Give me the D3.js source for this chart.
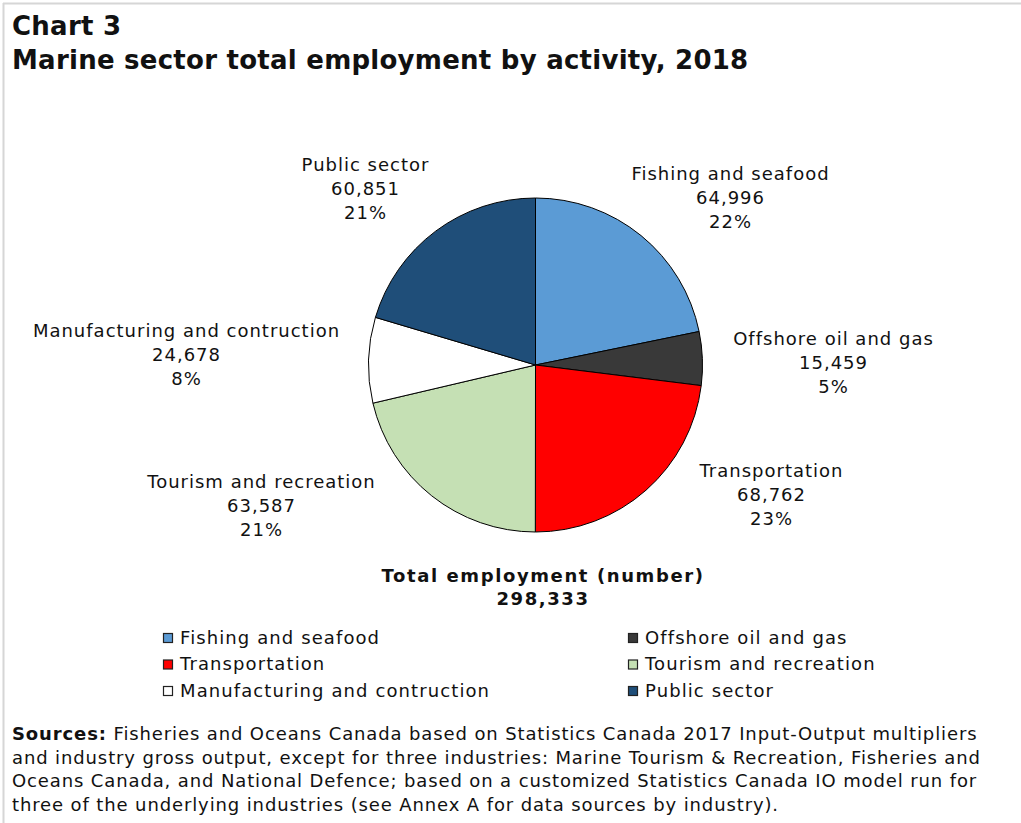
<!DOCTYPE html>
<html>
<head>
<meta charset="utf-8">
<script src="https://cdn.jsdelivr.net/npm/d3@7"></script>
<style>
  html, body { margin: 0; padding: 0; background: #fff; }
  svg { display: block; }
  text { font-family: "DejaVu Sans", Verdana, sans-serif; fill: #111; }
</style>
</head>
<body>
<svg id="chart" width="1021" height="823"></svg>
<script>
// Marine sector employment by activity, 2018
const categories = [
  "Fishing and seafood",
  "Offshore oil and gas",
  "Transportation",
  "Tourism and recreation",
  "Manufacturing and contruction",
  "Public sector"
];
const employment = [64996, 15459, 68762, 63587, 24678, 60851];
const shareLabels = ["22%", "5%", "23%", "21%", "8%", "21%"];
const colors = ["#5b9bd5", "#393939", "#ff0000", "#c5e0b4", "#ffffff", "#1f4e79"];

const titleLines = ["Chart 3", "Marine sector total employment by activity, 2018"];
const totalLabel = "Total employment (number)";
const sourceLines = [
  "Fisheries and Oceans Canada based on Statistics Canada 2017 Input-Output multipliers",
  "and industry gross output, except for three industries: Marine Tourism & Recreation, Fisheries and",
  "Oceans Canada, and National Defence; based on a customized Statistics Canada IO model run for",
  "three of the underlying industries (see Annex A for data sources by industry)."
];

// ---- layout ----
const cx = 535.5, cy = 365, radius = 167;
// label block centres (first-line baseline) relative to the pie centre
const labelAnchor = [
  [195, -185],   // Fishing and seafood
  [298, -20],    // Offshore oil and gas
  [236, 112],    // Transportation
  [-274, 123],   // Tourism and recreation
  [-349, -28],   // Manufacturing and contruction
  [-170, -194]   // Public sector
];
const lineGap = 24;
const fontSize = 18;
const tracking = 1.1;

const svg = d3.select("#chart");

// frame lines along the top and left
svg.append("line").attr("x1", 3).attr("x2", 1021).attr("y1", 3.5).attr("y2", 3.5)
  .attr("stroke", "#d6d6d6").attr("stroke-width", 2);
svg.append("line").attr("x1", 3.5).attr("x2", 3.5).attr("y1", 3).attr("y2", 823)
  .attr("stroke", "#d6d6d6").attr("stroke-width", 2);

// title
svg.append("g").selectAll("text").data(titleLines).join("text")
  .attr("x", 12).attr("y", (d, i) => 35 + i * 34)
  .attr("font-size", 26).attr("font-weight", "bold")
  .attr("letter-spacing", 0.25)
  .text(d => d);

const total = d3.sum(employment);
const fmtNum = d3.format(",");

const data = categories.map((c, i) => ({ name: c, value: employment[i], share: shareLabels[i], color: colors[i], idx: i }));

const pie = d3.pie().value(d => d.value).sort(null);
const arc = d3.arc().innerRadius(0).outerRadius(radius);

const g = svg.append("g").attr("transform", `translate(${cx},${cy})`);
g.selectAll("path").data(pie(data)).join("path")
  .attr("d", arc)
  .attr("fill", d => d.data.color)
  .attr("stroke", "#000")
  .attr("stroke-width", 1);

// slice labels: name, value, share
const labels = g.selectAll("text.slice").data(data).join("text")
  .attr("class", "slice")
  .attr("text-anchor", "middle")
  .attr("font-size", fontSize)
  .attr("letter-spacing", 1);
labels.each(function (d, i) {
  const t = d3.select(this);
  const [ax, ay] = labelAnchor[i];
  [d.name, fmtNum(d.value), d.share].forEach((s, k) => {
    t.append("tspan").attr("x", ax).attr("y", ay + k * lineGap).text(s);
  });
});

// total below the pie
svg.append("text").attr("x", 543).attr("y", 582)
  .attr("text-anchor", "middle").attr("font-size", fontSize).attr("font-weight", "bold")
  .attr("letter-spacing", 1.6)
  .text(totalLabel);
svg.append("text").attr("x", 543).attr("y", 605)
  .attr("text-anchor", "middle").attr("font-size", fontSize).attr("font-weight", "bold")
  .attr("letter-spacing", 1.6)
  .text(fmtNum(total));

// legend: two columns, three rows
const legend = svg.append("g");
const legItems = legend.selectAll("g").data(data).join("g")
  .attr("transform", (d, i) => `translate(${i % 2 === 0 ? 163 : 628},${633 + Math.floor(i / 2) * 26.5})`);
legItems.append("rect")
  .attr("x", 0.5).attr("y", 0.5).attr("width", 9).attr("height", 9)
  .attr("fill", d => d.color).attr("stroke", "#222").attr("stroke-width", 1.2);
legItems.append("text")
  .attr("x", 17).attr("y", 10.5)
  .attr("font-size", fontSize)
  .attr("letter-spacing", tracking)
  .text(d => d.name);

// sources note
const src = svg.append("text").attr("font-size", fontSize).attr("letter-spacing", 0.88);
sourceLines.forEach((s, k) => {
  if (k === 0) {
    src.append("tspan").attr("x", 12).attr("y", 740).attr("font-weight", "bold").text("Sources:");
    src.append("tspan").text(" " + s);
  } else {
    src.append("tspan").attr("x", 12).attr("y", 740 + k * 23.7).text(s);
  }
});
</script>
</body>
</html>
